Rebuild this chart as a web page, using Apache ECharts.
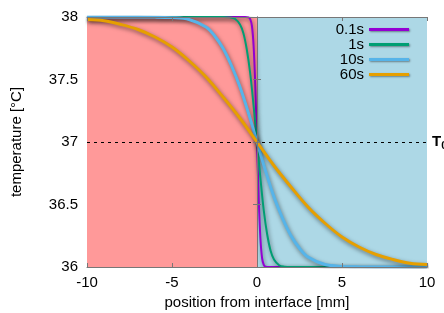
<!DOCTYPE html>
<html>
<head>
<meta charset="utf-8">
<script src="https://cdn.jsdelivr.net/npm/echarts@6/dist/echarts.min.js"></script>
<style>
  html, body { margin: 0; padding: 0; background: #fff; }
</style>
</head>
<body>
<div id="main" style="width:444px;height:313px;"></div>
<script>
// values
var legendNames = ['0.1s', '1s', '10s', '60s'];

var x01 = [-10, -2, -1, -0.7, -0.5, -0.4, -0.3, -0.2, -0.1, 0, 0.1, 0.2, 0.3, 0.4, 0.5, 0.7, 1, 2, 10];
var t01 = [38, 38, 38, 38, 37.997, 37.983, 37.93, 37.77, 37.45, 37, 36.55, 36.23, 36.07, 36.017, 36.003, 36, 36, 36, 36];

var x1 = [-10, -3, -2, -1.6, -1.3, -1, -0.8, -0.6, -0.4, -0.2, 0, 0.2, 0.4, 0.6, 0.8, 1, 1.3, 1.6, 2, 3, 10];
var t1 = [38, 38, 38, 37.997, 37.986, 37.94, 37.87, 37.74, 37.55, 37.29, 37, 36.71, 36.45, 36.26, 36.13, 36.06, 36.014, 36.003, 36, 36, 36];

var x10 = [-10, -8, -6, -5, -4, -3, -2.5, -2, -1.5, -1, -0.5, 0, 0.5, 1, 1.5, 2, 2.5, 3, 4, 5, 6, 8, 10];
var t10 = [38, 38, 37.999, 37.995, 37.98, 37.92, 37.85, 37.75, 37.61, 37.44, 37.23, 37, 36.77, 36.56, 36.39, 36.25, 36.15, 36.08, 36.02, 36.005, 36.001, 36, 36];

var x60 = [-10, -9, -8, -7, -6, -5, -4, -3, -2, -1, 0, 1, 2, 3, 4, 5, 6, 7, 8, 9, 10];
var t60 = [37.98, 37.97, 37.94, 37.90, 37.84, 37.76, 37.65, 37.52, 37.36, 37.19, 37, 36.81, 36.64, 36.48, 36.35, 36.24, 36.16, 36.10, 36.06, 36.03, 36.02];

var T0 = 37;
var regionChild = [-10, 0];
var regionMother = [0, 10];

function pairs(xs, ys) {
  var out = [];
  for (var i = 0; i < xs.length; i++) out.push([xs[i], ys[i]]);
  return out;
}

var FONT = '"Liberation Sans", Arial, sans-serif';
var FS = 15;
var shadow = { shadowColor: 'rgba(0,0,0,0.5)', shadowBlur: 4, shadowOffsetX: 1, shadowOffsetY: 2 };

function curve(name, xs, ys, color, width) {
  return {
    name: name,
    type: 'line',
    data: pairs(xs, ys),
    symbol: 'none',
    showSymbol: false,
    smooth: 0.35,
    color: color,
    lineStyle: Object.assign({ color: color, width: width }, shadow),
    z: 3
  };
}

var axisGray = '#777';

var chart = echarts.init(document.getElementById('main'));
var option = {
  animation: false,
  textStyle: { fontFamily: FONT },
  grid: { left: 87, right: 17, top: 17, bottom: 46, containLabel: false, outerBoundsMode: 'none' },
  legend: {
    data: legendNames.map(function (n) { return { name: n, icon: 'rect' }; }),
    orient: 'vertical',
    right: 30,
    top: 17,
    align: 'right',
    itemWidth: 40,
    itemHeight: 3,
    itemGap: 0,
    itemStyle: { shadowColor: 'rgba(0,0,0,0.4)', shadowBlur: 2, shadowOffsetX: 1, shadowOffsetY: 1 },
    textStyle: { fontSize: FS, lineHeight: 15, color: '#000', fontFamily: FONT }
  },
  xAxis: [{
    type: 'value',
    min: -10, max: 10, interval: 5,
    position: 'bottom',
    z: 10,
    name: 'position from interface [mm]',
    nameLocation: 'middle',
    nameGap: 28,
    nameTextStyle: { fontSize: FS, color: '#000' },
    axisLine: { show: true, lineStyle: { color: axisGray, width: 1 } },
    axisTick: { show: true, inside: true, length: 4, lineStyle: { color: axisGray } },
    axisLabel: { fontSize: FS, color: '#000', margin: 8 },
    splitLine: { show: false }
  }, {
    type: 'value',
    min: -10, max: 10, interval: 5,
    position: 'top',
    z: 10,
    axisLine: { show: true, lineStyle: { color: axisGray, width: 1 } },
    axisTick: { show: true, inside: true, length: 4, lineStyle: { color: axisGray } },
    axisLabel: { show: false },
    splitLine: { show: false }
  }],
  yAxis: [{
    type: 'value',
    min: 36, max: 38, interval: 0.5,
    position: 'left',
    z: 10,
    name: 'temperature [°C]',
    nameLocation: 'middle',
    nameGap: 63,
    nameTextStyle: { fontSize: FS, color: '#000' },
    axisLine: { show: true, lineStyle: { color: axisGray, width: 1 } },
    axisTick: { show: true, inside: true, length: 4, lineStyle: { color: axisGray } },
    axisLabel: { fontSize: FS, color: '#000', margin: 9 },
    splitLine: { show: false }
  }, {
    type: 'value',
    min: 36, max: 38, interval: 0.5,
    position: 'right',
    z: 10,
    axisLine: { show: true, lineStyle: { color: axisGray, width: 1 } },
    axisTick: { show: true, inside: true, length: 4, lineStyle: { color: axisGray } },
    axisLabel: { show: false },
    splitLine: { show: false }
  }],
  graphic: [
    { type: 'text', left: 127, top: 154, style: { text: 'child\u2019s head', font: FS + 'px ' + FONT, fill: '#000' } },
    { type: 'text', left: 302, top: 157, style: { text: 'mother\u2019s head', font: FS + 'px ' + FONT, fill: '#000' } }
  ],
  series: [
    {
      name: 'bg',
      type: 'line',
      data: [],
      silent: true,
      z: 1,
      markArea: {
        silent: true,
        data: [
          [{ xAxis: regionChild[0], itemStyle: { color: '#ff9999' } }, { xAxis: regionChild[1] }],
          [{ xAxis: regionMother[0], itemStyle: { color: '#add8e6' } }, { xAxis: regionMother[1] }]
        ]
      },
      markLine: {
        silent: true,
        symbol: 'none',
        lineStyle: { color: '#000', type: [3, 4], width: 1 },
        label: {
          position: 'end',
          distance: 5,
          formatter: 'T{s|0}',
          color: '#000',
          fontSize: FS,
          fontWeight: 'bold',
          rich: { s: { fontSize: 11, fontWeight: 'bold', verticalAlign: 'bottom', padding: [8, 0, 0, 0] } }
        },
        data: [{ yAxis: T0 }]
      }
    },
    curve('0.1s', x01, t01, '#9400d3', 2),
    curve('1s', x1, t1, '#009e73', 2),
    curve('10s', x10, t10, '#56b4e9', 3),
    curve('60s', x60, t60, '#e69f00', 3)
  ]
};
chart.setOption(option);
</script>
</body>
</html>
